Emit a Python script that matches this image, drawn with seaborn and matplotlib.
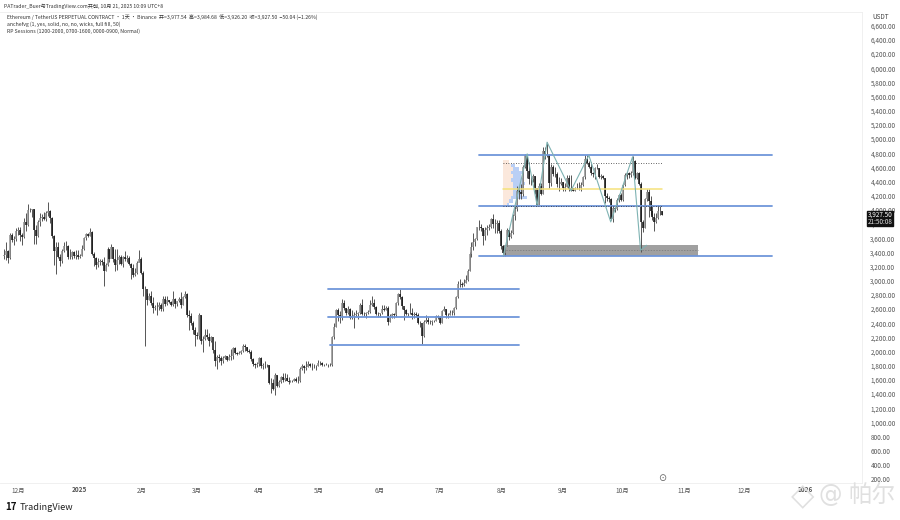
import numpy as np
import pandas as pd
import matplotlib
matplotlib.use('Agg')
import matplotlib.pyplot as plt
import matplotlib.dates as mdates
import seaborn as sns

# 日K数据 2024-11-24 ~ 2025-10-21
closes = [3360,3415,3325,3650,3580,3590,3705,
    3710,3640,3615,3835,3785,4000,3995,4005,3715,3630,3835,3880,3905,3870,3960,3985,3885,3625,3420,3480,3335,3280,3420,3495,3490,3335,3330,3400,3350,3360,3335,
    3350,3450,3605,3655,3635,3685,3380,3325,3220,3265,3280,3265,3135,3225,3450,3310,3475,3310,3215,3285,3330,3240,3340,3310,3320,3235,3180,3080,3110,3250,3300,
    3110,2880,2880,2730,2785,2685,2620,2630,2630,2660,2600,2735,2675,2725,2695,2660,2745,2670,2715,2740,2660,2765,2815,2515,2495,2405,2305,2235,
    2215,2515,2155,2170,2240,2200,2145,2200,2020,1865,1920,1910,1860,1910,1935,1885,1925,1930,2055,1980,1965,1985,2005,2080,2065,2010,2000,1895,1830,1805,1820,
    1905,1795,1815,1815,1805,1550,1550,1470,1670,1520,1565,1645,1595,1625,1590,1575,1585,1590,1615,1585,1580,1755,1800,1765,1785,1820,1795,1800,1800,1795,
    1840,1835,1815,1805,1815,1810,1810,2210,2345,2585,2510,2495,2680,2610,2545,2600,2470,2495,2520,2525,2550,2660,2525,2530,2550,2560,2660,2680,2630,2530,2530,
    2540,2600,2590,2610,2420,2480,2525,2510,2680,2815,2770,2645,2580,2525,2545,2545,2510,2525,2520,2405,2405,2225,2420,2450,2415,2420,2425,2435,2500,2490,
    2405,2570,2595,2515,2515,2545,2540,2615,2770,2950,2960,2945,2970,3010,3130,3370,3475,3550,3590,3755,3760,3745,3630,3710,3745,3755,3870,3795,3795,3810,3695,
    3490,3395,3495,3720,3610,3680,3910,4010,4260,4255,4225,4600,4775,4550,4440,4430,4475,4310,4075,4340,4225,4830,4780,4780,4375,4600,4510,4510,4360,4370,4390,
    4310,4325,4450,4295,4305,4270,4305,4310,4310,4350,4460,4715,4665,4605,4525,4500,4590,4590,4470,4480,4450,4200,4165,4150,3870,4030,4010,4140,4215,4145,
    4350,4485,4515,4485,4515,4685,4455,4525,4370,3835,3750,4155,4250,4130,3985,3895,3830,3890,3980,3980,3927.5]
highs = [3450,3540,3430,3680,3680,3630,3740,
    3760,3760,3670,3880,3950,4085,4020,4010,4010,3780,3855,3950,3940,3975,3985,4110,4000,3900,3650,3550,3545,3380,3450,3540,3555,3510,3450,3420,3425,3430,3440,
    3370,3500,3620,3675,3670,3745,3700,3410,3340,3325,3300,3310,3340,3255,3470,3450,3520,3450,3450,3450,3360,3360,3350,3425,3360,3350,3250,3240,3180,3280,3440,
    3330,3130,2930,2820,2825,2860,2770,2650,2695,2700,2690,2790,2790,2780,2730,2720,2860,2760,2720,2770,2845,2780,2855,2830,2580,2545,2430,2350,
    2280,2550,2520,2220,2320,2320,2260,2220,2030,2150,1950,1960,1930,1930,1950,1940,1960,2035,2070,2060,2000,2010,2015,2105,2105,2070,2030,2020,1905,1840,1855,
    1925,1925,1840,1870,1830,1815,1620,1610,1690,1670,1600,1650,1700,1690,1680,1640,1600,1600,1630,1640,1660,1780,1830,1810,1860,1865,1840,1840,1830,1810,
    1875,1860,1845,1825,1840,1830,1840,2225,2400,2600,2620,2575,2735,2730,2620,2640,2620,2580,2560,2590,2560,2685,2740,2555,2560,2590,2730,2790,2735,2640,2560,
    2545,2650,2660,2640,2640,2525,2550,2545,2700,2830,2880,2780,2620,2595,2550,2680,2610,2555,2560,2550,2425,2350,2450,2520,2490,2450,2450,2445,2515,2510,
    2500,2590,2640,2605,2545,2590,2585,2635,2790,2995,3020,2975,3030,3080,3170,3400,3550,3680,3600,3760,3860,3795,3750,3760,3785,3800,3880,3940,3870,3860,3860,
    3725,3500,3505,3740,3740,3720,3935,4070,4330,4330,4370,4640,4790,4785,4670,4480,4510,4480,4310,4380,4375,4890,4885,4955,4795,4650,4640,4600,4530,4470,4450,
    4400,4380,4490,4485,4490,4310,4320,4380,4400,4390,4480,4770,4770,4690,4670,4530,4610,4650,4590,4500,4490,4450,4240,4200,4170,4050,4040,4170,4220,4240,
    4360,4515,4540,4540,4550,4755,4700,4530,4530,4395,3850,4170,4290,4295,4200,4070,3960,3950,4070,4070,3984.68]
lows = [3300,3285,3250,3300,3540,3500,3560,
    3650,3560,3500,3600,3700,3770,3970,3905,3520,3515,3610,3770,3840,3850,3840,3920,3820,3600,3220,3100,3320,3210,3250,3400,3440,3300,3300,3310,3320,3300,3300,
    3320,3345,3440,3580,3610,3630,3360,3210,3160,3190,3220,3220,2920,3130,3210,3265,3325,3270,3130,3145,3230,3220,3190,3280,3270,3225,3020,3050,3060,3100,3260,
    3100,2780,2080,2650,2730,2650,2550,2590,2520,2590,2570,2570,2640,2660,2680,2640,2640,2620,2640,2700,2610,2650,2750,2490,2310,2380,2250,2075,
    2170,2170,2100,1995,2165,2170,2080,2130,1985,1795,1760,1855,1815,1840,1900,1870,1885,1885,1895,1960,1955,1960,1960,2000,2010,2000,1985,1860,1800,1770,1780,
    1800,1770,1750,1765,1780,1535,1415,1450,1390,1500,1505,1555,1565,1590,1585,1545,1565,1565,1585,1570,1560,1570,1745,1700,1745,1775,1780,1745,1770,1735,
    1790,1815,1800,1795,1805,1780,1790,1800,2175,2340,2435,2400,2445,2580,2510,2530,2460,2455,2330,2505,2465,2535,2515,2505,2470,2535,2545,2640,2600,2510,2490,
    2490,2530,2575,2580,2380,2410,2470,2470,2490,2660,2740,2600,2440,2510,2500,2530,2460,2470,2490,2390,2350,2110,2205,2400,2390,2385,2380,2410,2425,2460,
    2390,2400,2565,2480,2480,2510,2510,2515,2600,2760,2915,2910,2930,2965,2990,3130,3330,3440,3490,3580,3715,3700,3510,3570,3640,3720,3750,3740,3680,3680,3680,
    3450,3355,3355,3490,3580,3600,3660,3850,3985,4160,4160,4190,4590,4450,4360,4350,4390,4230,4060,4075,4210,4230,4720,4740,4310,4340,4480,4470,4320,4260,4350,
    4260,4260,4320,4260,4270,4260,4260,4290,4280,4270,4330,4440,4650,4590,4490,4460,4440,4570,4450,4440,4440,4090,4130,4110,3860,3830,3970,4000,4110,4120,
    4130,4340,4430,4455,4470,4490,4430,4430,4350,3400,3690,3740,4120,3900,3930,3850,3700,3810,3870,3925,3926.2]
first_open = 3350

# 水平位
upper_levels = [4780, 4060, 3350]
lower_levels = [2885, 2490, 2095]
lower_starts = ['2025-05-06', '2025-05-06', '2025-05-07']
poc_price = 4295
va_high = 4660
va_low = 4060
box_top = 3510
box_bottom = 3350
box_mid = 3430

# 折线
zig_dates = ['2025-08-02','2025-08-14','2025-08-19','2025-08-24','2025-09-05','2025-09-14','2025-09-25','2025-10-06','2025-10-10','2025-10-13']
zig_prices = [3355, 4790, 4065, 4955, 4270, 4770, 3830, 4750, 3430, 3500]

# 成交量分布
vp_prices = [4675,4625,4575,4525,4475,4425,4375,4325,4275,4225,4175,4125,4075]
vp_blue = [3,6,8,10,9,10,11,10,9,9,12,5,3]
vp_peach = [3,4,5,4,5,4,5,5,5,5,4,3,2]

tick_dates = ['2024-12-01','2025-01-01','2025-02-01','2025-03-01','2025-04-01','2025-05-01','2025-06-01','2025-07-01','2025-08-01','2025-09-01','2025-10-01','2025-11-01','2025-12-01','2026-01-01']
tick_labels = ['12月','2025','2月','3月','4月','5月','6月','7月','8月','9月','10月','11月','12月','2026']
price_ticks = list(range(200, 6800, 200))

W, H = 900, 520
sns.set_theme(style='white')
plt.rcParams['font.family'] = ['Noto Sans CJK SC', 'DejaVu Sans']
plt.rcParams['axes.unicode_minus'] = False

df = pd.DataFrame({'close': closes, 'high': highs, 'low': lows})
df['date'] = pd.date_range('2024-11-24', periods=len(df), freq='D')
df['open'] = df['close'].shift(1).fillna(first_open)
df['up'] = df['close'] >= df['open']

fig = plt.figure(figsize=(W / 100, H / 100), dpi=100)
ax = fig.add_axes([0, 1 - 483 / H, 862 / W, 471 / H])

BLUE = '#6f96da'

# 成交量分布在最底层
t0 = mdates.date2num(pd.Timestamp('2025-08-02'))
ax.barh(vp_prices, vp_blue, left=t0, height=50, color='#b9cff5', lw=0, zorder=1)
ax.barh(vp_prices, vp_peach, left=t0, height=50, color='#fbe8dc', lw=0, zorder=1.1)

# 灰色区域
box_dates = pd.to_datetime(['2025-08-02', '2025-11-08'])
ax.fill_between(box_dates, box_bottom, box_top, color='#a0a0a0', lw=0, zorder=2)
sns.lineplot(x=box_dates, y=[box_mid, box_mid], ax=ax, color='#777777', lw=0.5, ls=(0, (2, 2)), zorder=2.1)

# K线
ax.vlines(df['date'], df['low'], df['high'], color='#555555', lw=0.7, zorder=3)
up = df[df['up']]
down = df[~df['up']]
ax.vlines(up['date'], up['open'], up['close'], color='#8f8f8f', lw=1.1, zorder=3.1)
ax.vlines(down['date'], down['close'], down['open'], color='#111111', lw=1.1, zorder=3.1)

# 蓝色水平线
for p in upper_levels:
    sns.lineplot(x=pd.to_datetime(['2025-07-21', '2025-12-15']), y=[p, p], ax=ax, color=BLUE, lw=1.3, zorder=4)
for p, s in zip(lower_levels, lower_starts):
    sns.lineplot(x=pd.to_datetime([s, '2025-08-10']), y=[p, p], ax=ax, color=BLUE, lw=1.3, zorder=4)

# POC / VA
sns.lineplot(x=pd.to_datetime(['2025-08-02', '2025-10-21']), y=[poc_price, poc_price], ax=ax, color='#f5e27a', lw=1.1, zorder=4.2)
for p in [va_high, va_low]:
    sns.lineplot(x=pd.to_datetime(['2025-08-02', '2025-10-21']), y=[p, p], ax=ax, color='#333333', lw=0.6, ls=(0, (1, 2)), zorder=4.3)

# 折线
sns.lineplot(x=pd.to_datetime(zig_dates), y=zig_prices, ax=ax, sort=False, estimator=None, color='#7fb3b3', lw=0.8, zorder=5)

px_per_day = 1.989
x0 = pd.Timestamp('2024-12-01') - pd.Timedelta(days=18 / px_per_day)
x1 = pd.Timestamp('2024-12-01') + pd.Timedelta(days=(862 - 18) / px_per_day)
ax.set_xlim(x0, x1)
ax.set_ylim(200 + (479 - 483) / 0.07083, 200 + (479 - 12) / 0.07083)
ax.set_xlabel('')
ax.set_ylabel('')

ax.yaxis.tick_right()
ax.set_yticks(price_ticks, [f'{p:,.2f}' for p in price_ticks])
ax.set_xticks(pd.to_datetime(tick_dates), tick_labels)
ax.tick_params(axis='both', length=0, labelsize=4.6, labelcolor='#555555')
ax.tick_params(axis='y', pad=6)
ax.tick_params(axis='x', pad=2.5)
for lab, txt in zip(ax.get_xticklabels(), tick_labels):
    if txt.isdigit():
        lab.set_fontweight('bold')
for s in ax.spines.values():
    s.set_visible(False)
for k in ['top', 'bottom', 'right']:
    ax.spines[k].set_visible(True)
    ax.spines[k].set_color('#eeeeee')
    ax.spines[k].set_linewidth(0.6)
ax.grid(False)


def put(x, y, s, **kw):
    kw.setdefault('fontsize', 3.7)
    kw.setdefault('color', '#333333')
    kw.setdefault('va', 'center')
    return fig.text(x / W, 1 - y / H, s, **kw)


# 标题和指标
put(4, 6, 'PATrader_Buer与TradingView.com共创, 10月 21, 2025 10:09 UTC+8')
put(7, 17, 'Ethereum / TetherUS PERPETUAL CONTRACT · 1天 · Binance  开=3,977.54  高=3,984.68  低=3,926.20  收=3,927.50  −50.04 (−1.26%)')
put(7, 24.5, 'anchefvg (1, yes, solid, no, no, wicks, full fill, 50)')
put(7, 31.5, 'RP Sessions (1200-2000, 0700-1600, 0000-0900, Normal)')
put(872, 17, 'USDT', fontsize=4.6, color='#444444')

# 当前价格标签
fig.patches.append(plt.Rectangle((867 / W, 1 - 226 / H), 26 / W, 15 / H, transform=fig.transFigure, color='#111111', zorder=6))
put(880, 215, '3,927.50', fontsize=4.6, color='white', ha='center', zorder=7)
put(880, 222, '21:50:08', fontsize=4.6, color='#dddddd', ha='center', zorder=7)

# 图标和水印
put(11, 507, '17', fontsize=7, fontweight='bold', color='#111111', ha='center')
put(20, 507, 'TradingView', fontsize=6.6, fontweight='medium', color='#222222')
put(662, 478, '⊙', fontsize=7, color='#666666', ha='center', family=['DejaVu Sans'])
put(803, 497, '◇', fontsize=22, color='#e0e0e0', ha='center', family=['DejaVu Sans'])
put(830, 495, '@', fontsize=17, color='#e0e0e0', ha='center', family=['DejaVu Sans'])
put(848, 495, '帕尔', fontsize=17, color='#e0e0e0')

fig.savefig('out.png', dpi=100)
